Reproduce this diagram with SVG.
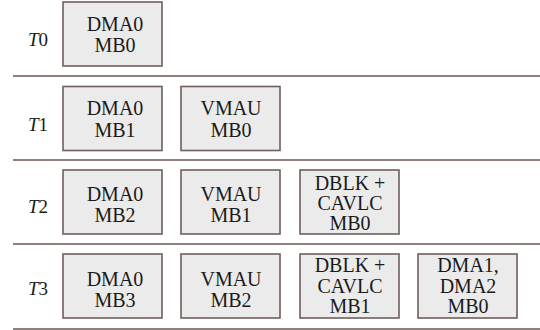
<svg xmlns="http://www.w3.org/2000/svg" width="540" height="330" viewBox="0 0 540 330">
<defs>
<rect id="box" width="99" height="64" fill="#ecebeb" stroke="#6f605b" stroke-width="1.6"/>
</defs>
<rect width="540" height="330" fill="#ffffff"/>
<g id="separators" stroke="#8f807b" stroke-width="2">
<line x1="13" y1="76" x2="540" y2="76"/>
<line x1="13" y1="160" x2="540" y2="160"/>
<line x1="13" y1="244" x2="540" y2="244"/>
<line x1="13" y1="329" x2="540" y2="329"/>
</g>
<g id="labels" fill="#1a1a1a" font-family="Liberation Serif" font-size="19">
<text x="28" y="46"><tspan font-style="italic">T</tspan>0</text>
<text x="28" y="131"><tspan font-style="italic">T</tspan>1</text>
<text x="28" y="213"><tspan font-style="italic">T</tspan>2</text>
<text x="28" y="295"><tspan font-style="italic">T</tspan>3</text>
</g>
<g fill="#1a1a1a" text-anchor="middle" font-family="Liberation Serif" font-size="20">
<g id="t0-dma0">
<use href="#box" x="63" y="2"/>
<text x="115" y="31">DMA0</text>
<text x="115" y="52">MB0</text>
</g>
<g id="t1-dma0">
<use href="#box" x="63" y="86.5"/>
<text x="115" y="115">DMA0</text>
<text x="115" y="136.5">MB1</text>
</g>
<g id="t1-vmau">
<use href="#box" x="181" y="86.5"/>
<text x="231" y="115">VMAU</text>
<text x="231" y="136.5">MB0</text>
</g>
<g id="t2-dma0">
<use href="#box" x="63" y="170"/>
<text x="115" y="201">DMA0</text>
<text x="115" y="221.5">MB2</text>
</g>
<g id="t2-vmau">
<use href="#box" x="181" y="170"/>
<text x="231" y="201">VMAU</text>
<text x="231" y="221.5">MB1</text>
</g>
<g id="t2-dblk">
<use href="#box" x="300" y="170"/>
<text x="350" y="190">DBLK +</text>
<text x="350" y="210">CAVLC</text>
<text x="350" y="230">MB0</text>
</g>
<g id="t3-dma0">
<use href="#box" x="63" y="254"/>
<text x="115" y="286">DMA0</text>
<text x="115" y="306.5">MB3</text>
</g>
<g id="t3-vmau">
<use href="#box" x="181" y="254"/>
<text x="231" y="286">VMAU</text>
<text x="231" y="306.5">MB2</text>
</g>
<g id="t3-dblk">
<use href="#box" x="300" y="254"/>
<text x="350" y="272">DBLK +</text>
<text x="350" y="292.5">CAVLC</text>
<text x="350" y="313">MB1</text>
</g>
<g id="t3-dma12">
<use href="#box" x="418" y="254"/>
<text x="468" y="272">DMA1,</text>
<text x="468" y="292.5">DMA2</text>
<text x="468" y="313">MB0</text>
</g>
</g>
<g id="connectors"></g>
</svg>
